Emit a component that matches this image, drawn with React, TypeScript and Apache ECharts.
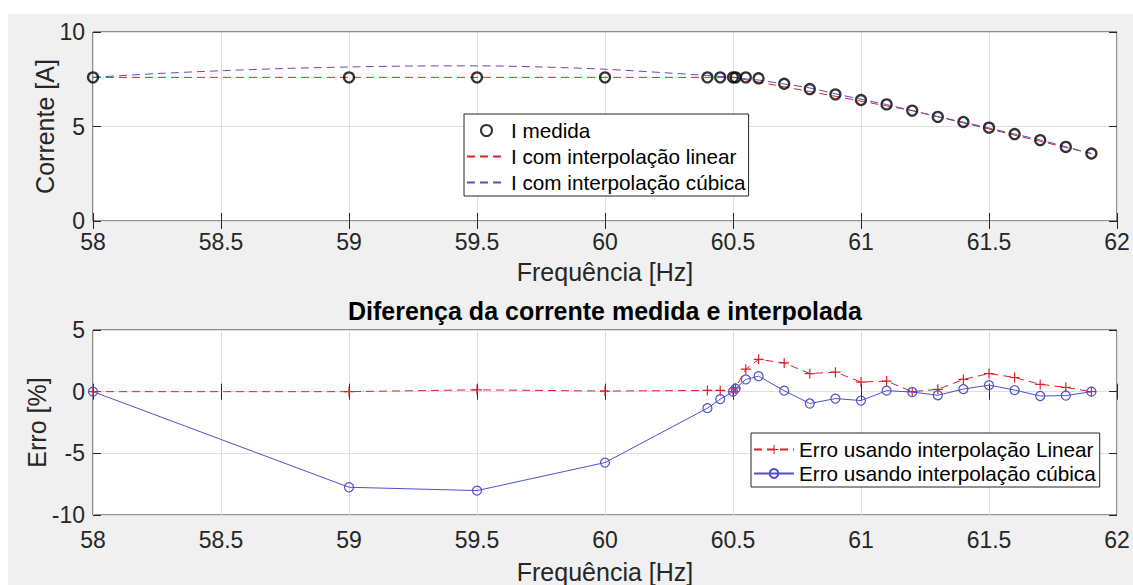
import React, { useEffect, useRef } from "react";
import * as echarts from "echarts";

const FONT = "'Liberation Sans', Arial, Helvetica, sans-serif";

// Frequencies of the measurements [Hz]
const freq = [58, 59, 59.5, 60, 60.4, 60.45, 60.5, 60.51, 60.55, 60.6, 60.7, 60.8, 60.9, 61.0, 61.1, 61.2, 61.3, 61.4, 61.5, 61.6, 61.7, 61.8, 61.9];
// Measured current [A]
const currentMeasured = [7.6, 7.6, 7.6, 7.6, 7.6, 7.6, 7.6, 7.6, 7.6, 7.55, 7.26, 6.98, 6.7, 6.4, 6.17, 5.84, 5.51, 5.24, 4.94, 4.6, 4.28, 3.92, 3.57];
// Current with linear interpolation [A]
const currentLinear = [7.6, 7.6, 7.6, 7.6, 7.6, 7.6, 7.6, 7.6, 7.47, 7.35, 7.1, 6.85, 6.6, 6.34, 6.09, 5.84, 5.52, 5.19, 4.87, 4.54, 4.22, 3.89, 3.57];
// Current with cubic interpolation [A]
const cubicFreq = [58, 58.25, 58.5, 58.75, 59, 59.25, 59.5, 59.75, 60, 60.25, 60.4, 60.45, 60.5, 60.55, 60.6, 60.7, 60.8, 60.9, 61.0, 61.1, 61.2, 61.3, 61.4, 61.5, 61.6, 61.7, 61.8, 61.9];
const currentCubic = [7.6, 7.8, 7.95, 8.07, 8.15, 8.2, 8.21, 8.15, 8.03, 7.83, 7.7, 7.65, 7.6, 7.52, 7.46, 7.25, 7.04, 6.73, 6.44, 6.16, 5.84, 5.52, 5.23, 4.92, 4.6, 4.29, 3.93, 3.57];
// Error [%]
const errLinear = [0, 0, 0.15, 0.05, 0.1, 0.1, 0, 0.3, 1.82, 2.62, 2.33, 1.47, 1.58, 0.78, 0.86, 0, 0.19, 0.99, 1.47, 1.15, 0.59, 0.35, 0];
const errCubic = [0, -7.75, -8.02, -5.75, -1.34, -0.61, 0, 0.25, 0.99, 1.26, 0.08, -0.96, -0.56, -0.72, 0.08, -0.03, -0.29, 0.21, 0.53, 0.13, -0.35, -0.32, 0];

const xTicks = { min: 58, max: 62, interval: 0.5 };
const yTicksTop = { min: 0, max: 10, interval: 5 };
const yTicksBottom = { min: -10, max: 5, interval: 5 };

const RED = "#e0202a";
const BLUE = "#5050cc";
const AX = "#262626";
const GRIDC = "#dfdfdf";

const PLUS = "path://M4.4,0 H5.6 V4.4 H10 V5.6 H5.6 V10 H4.4 V5.6 H0 V4.4 H4.4 Z";

function pairs(xs: number[], ys: number[]) {
  return xs.map((x, i) => [x, ys[i]]);
}

export default function App() {
  const ref = useRef<HTMLDivElement>(null);
  useEffect(() => {
    const chart = echarts.init(ref.current!, null, { renderer: "svg" });
    const tickLabel = { color: AX, fontSize: 23, fontFamily: FONT };
    const nameStyle = { color: AX, fontSize: 25, fontFamily: FONT };
    const xMain = (gridIndex: number, nameGap: number, margin: number) => ({
      type: "value",
      gridIndex,
      ...xTicks,
      position: "bottom",
      axisLine: { show: false },
      axisTick: { show: true, inside: true, length: 8, lineStyle: { color: AX } },
      axisLabel: { ...tickLabel, margin },
      splitLine: { show: true, lineStyle: { color: GRIDC, width: 1 } },
      name: "Frequência [Hz]",
      nameLocation: "middle",
      nameGap,
      nameMoveOverlap: false,
      nameTextStyle: nameStyle,
    });
    const xTop = (gridIndex: number) => ({
      type: "value",
      gridIndex,
      ...xTicks,
      position: "top",
      axisLine: { show: false },
      axisTick: { show: true, inside: true, length: 8, lineStyle: { color: AX } },
      axisLabel: { show: false },
      splitLine: { show: false },
    });
    const yMain = (gridIndex: number, ticks: any, name: string, nameGap: number) => ({
      type: "value",
      gridIndex,
      ...ticks,
      position: "left",
      axisLine: { show: false },
      axisTick: { show: true, inside: true, length: 8, lineStyle: { color: AX } },
      axisLabel: { ...tickLabel, margin: 8 },
      splitLine: { show: true, lineStyle: { color: GRIDC, width: 1 } },
      name,
      nameLocation: "middle",
      nameGap,
      nameMoveOverlap: false,
      nameTextStyle: nameStyle,
    });
    const yRight = (gridIndex: number, ticks: any) => ({
      type: "value",
      gridIndex,
      ...ticks,
      position: "right",
      axisLine: { show: false },
      axisTick: { show: true, inside: true, length: 8, lineStyle: { color: AX } },
      axisLabel: { show: false },
      splitLine: { show: false },
    });

    const legendText = { fontSize: 20.7, fontFamily: FONT, color: "#000" };
    const option: any = {
      animation: false,
      title: {
        text: "Diferença da corrente medida e interpolada",
        left: 605,
        top: 298,
        padding: 0,
        textAlign: "center",
        textStyle: { fontSize: 25, fontWeight: "bold", fontFamily: FONT, color: "#000" },
      },
      grid: [
        { left: 93, top: 32, width: 1024, height: 189, show: true, backgroundColor: "#fff", borderColor: AX, borderWidth: 1 },
        { left: 93, top: 330, width: 1024, height: 187, show: true, backgroundColor: "#fff", borderColor: AX, borderWidth: 1 },
      ],
      xAxis: [xMain(0, 38, 9), xTop(0), xMain(1, 44, 13), xTop(1)],
      yAxis: [
        yMain(0, yTicksTop, "Corrente [A]", 36),
        yRight(0, yTicksTop),
        yMain(1, yTicksBottom, "Erro [%]", 44),
        yRight(1, yTicksBottom),
      ],
      legend: [
        {
          data: [
            { name: "I medida" },
            { name: "I com interpolação linear", itemStyle: { opacity: 0 } },
            { name: "I com interpolação cúbica", itemStyle: { opacity: 0 } },
          ],
          orient: "vertical",
          left: 464,
          top: 114,
          padding: [6, 3, 3, 2],
          itemGap: 5,
          itemWidth: 39,
          itemHeight: 11,
          backgroundColor: "#fff",
          borderColor: AX,
          borderWidth: 1,
          borderRadius: 0,
          selectedMode: false,
          textStyle: legendText,
        },
        {
          data: ["Erro usando interpolação Linear", "Erro usando interpolação cúbica"],
          orient: "vertical",
          left: 751,
          top: 433,
          padding: [6, 4, 3, 2],
          itemGap: 3,
          itemWidth: 40,
          itemHeight: 11,
          backgroundColor: "#fff",
          borderColor: AX,
          borderWidth: 1,
          borderRadius: 0,
          selectedMode: false,
          textStyle: legendText,
        },
      ],
      series: [
        {
          name: "I com interpolação linear",
          type: "line",
          xAxisIndex: 0,
          yAxisIndex: 0,
          data: pairs(freq, currentLinear),
          symbol: "none",
          color: RED,
          lineStyle: { color: RED, width: 1, type: [8, 5] },
          z: 3,
        },
        {
          name: "I com interpolação cúbica",
          type: "line",
          xAxisIndex: 0,
          yAxisIndex: 0,
          data: pairs(cubicFreq, currentCubic),
          symbol: "none",
          smooth: 0.3,
          color: BLUE,
          lineStyle: { color: BLUE, width: 1, type: [8, 5] },
          z: 3,
        },
        {
          name: "I medida",
          type: "scatter",
          xAxisIndex: 0,
          yAxisIndex: 0,
          data: pairs(freq, currentMeasured),
          symbol: "circle",
          symbolSize: 10,
          itemStyle: { color: "rgba(255,255,255,0)", borderColor: "#000", borderWidth: 2.3 },
          z: 4,
        },
        {
          name: "Erro usando interpolação Linear",
          type: "line",
          xAxisIndex: 2,
          yAxisIndex: 2,
          data: pairs(freq, errLinear),
          symbol: PLUS,
          symbolSize: 10,
          showSymbol: true,
          showAllSymbol: true,
          color: RED,
          itemStyle: { color: RED },
          lineStyle: { color: RED, width: 1, type: [8, 5] },
          z: 3,
        },
        {
          name: "Erro usando interpolação cúbica",
          type: "line",
          xAxisIndex: 2,
          yAxisIndex: 2,
          data: pairs(freq, errCubic),
          symbol: "circle",
          symbolSize: 9,
          showSymbol: true,
          showAllSymbol: true,
          color: BLUE,
          itemStyle: { color: "rgba(255,255,255,0)", borderColor: BLUE, borderWidth: 1.2 },
          lineStyle: { color: BLUE, width: 1 },
          z: 4,
        },
      ],
    };
    chart.setOption(option);
    return () => chart.dispose();
  }, []);
  return (
    <div style={{ position: "fixed", left: 0, top: 0, width: 1133, height: 585, background: "#fff", overflow: "hidden" }}>
      <div style={{ position: "absolute", left: 8, top: 14, right: 0, bottom: 0, background: "#f0f0f0" }} />
      <div ref={ref} style={{ position: "absolute", left: 0, top: 0, width: 1133, height: 585 }} />
    </div>
  );
}
